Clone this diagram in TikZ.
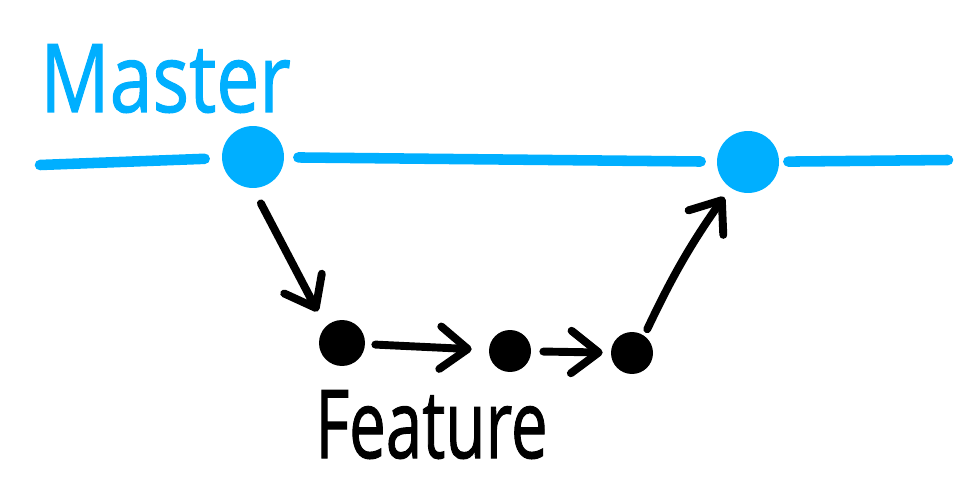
\documentclass[tikz,border=0pt]{standalone}
\usepackage{fontspec}
\setmainfont{Open Sans}
\newfontfamily\handfnt{Open Sans}[FakeBold=1.3]
\usetikzlibrary{arrows.meta}
\definecolor{mast}{RGB}{0, 175, 255}

\tikzset{
  mastdot/.style={circle, fill=mast, minimum size=1.24cm, inner sep=0pt},
  featdot/.style={circle, fill=black, inner sep=0pt},
  mastline/.style={draw=mast, line width=6pt, line cap=round},
  featarrow/.style={line width=4.5pt, line cap=round,
    -{Straight Barb[length=5.5mm, width=8.5mm, line cap=round, line join=round]}},
  handfont/.style={font=\handfnt\fontsize{54}{54}\selectfont, inner sep=0pt},
}

\begin{document}
\begin{tikzpicture}[x=0.02cm, y=-0.02cm]
	\useasboundingbox (0,0) rectangle (976,489);

	% branche master
	\node[handfont, anchor=base west, text=mast] (lm) at (40,112) {\scalebox{0.81}[1]{Master}};
	\node[mastdot] (m1) at (253,157) {};
	\node[mastdot] (m2) at (748,162) {};
	\coordinate (mstart) at (40,165);
	\coordinate (mend) at (948,160);
	\draw[mastline, shorten >=0.34cm] (mstart) -- (m1);
	\draw[mastline, shorten <=0.28cm, shorten >=0.32cm] (m1) -- (m2);
	\draw[mastline, shorten <=0.18cm] (m2) -- (mend);

	% branche feature
	\foreach \n/\x/\y/\d in {1/342/343/0.92, 2/510/351/0.84, 3/632/353/0.84}
		\node[featdot, minimum size=\d cm] (f\n) at (\x,\y) {};
	\node[handfont, anchor=base west] (lf) at (315,458) {\scalebox{0.69}[1]{Feature}};

	% fleches
	\draw[featarrow, shorten <=0.34cm, shorten >=0.34cm] (m1.south) -- (f1.north west);
	\draw[featarrow, shorten <=0.2cm, shorten >=0.34cm] (f1) -- (f2);
	\draw[featarrow, shorten <=0.24cm, shorten >=0.16cm] (f2) -- (f3);
	\draw[featarrow, shorten <=0.14cm, shorten >=0.22cm] (f3.55) to[bend left=5] (m2.236);
\end{tikzpicture}
\end{document}
